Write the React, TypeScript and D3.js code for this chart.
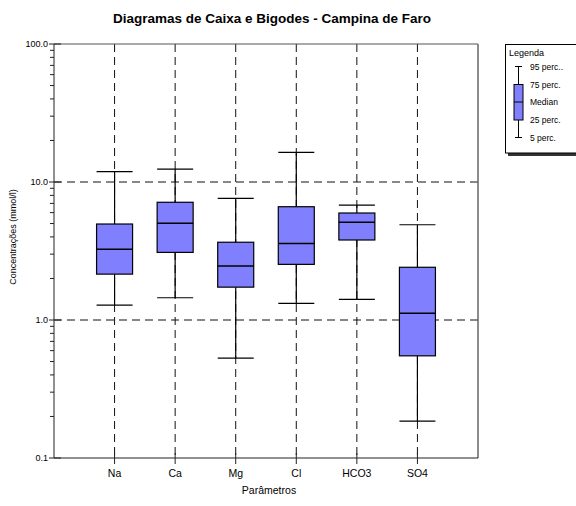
import React from "react";
import * as d3 from "d3";

const categories = ["Na", "Ca", "Mg", "Cl", "HCO3", "SO4"];
const p95 = [11.9, 12.4, 7.6, 16.4, 6.8, 4.9];
const p75 = [4.96, 7.13, 3.66, 6.62, 5.96, 2.41];
const median = [3.25, 5.02, 2.46, 3.59, 5.1, 1.12];
const p25 = [2.15, 3.09, 1.73, 2.53, 3.8, 0.55];
const p5 = [1.28, 1.45, 0.53, 1.32, 1.41, 0.185];
const yTicks = [0.1, 1, 10, 100];
const legendLabels = ["95 perc..", "75 perc.", "Median", "25 perc.", "5 perc."];

const W = 576, H = 506;
const L = 54, R = 478, T = 44, B = 458;
const FONT = "Liberation Sans, Arial, sans-serif";

export default function App() {
  const y = d3.scaleLog().domain([0.1, 100]).range([B, T]);
  const x = d3.scaleLinear().domain([0, categories.length + 1]).range([L, R]);
  const bw = 36;
  const minor: number[] = [];
  [0.1, 1, 10].forEach((d) => {
    for (let k = 2; k <= 9; k++) minor.push(d * k);
  });
  const dash = "8,5";
  const gridColor = "#111";

  // legend
  const lx = 518.5;
  const ly = [66.5, 84.5, 102, 120, 137.5];

  return (
    <svg width={W} height={H} style={{ position: "absolute", left: 0, top: 0 }}>
      <rect width={W} height={H} fill="#fff" />
      <text x={272} y={23} textAnchor="middle" fontFamily={FONT} fontWeight="bold" fontSize={13.5}>
        Diagramas de Caixa e Bigodes - Campina de Faro
      </text>
      {/* grid */}
      {categories.map((c, i) => (
        <line key={"vg" + c} x1={x(i + 1)} x2={x(i + 1)} y1={T} y2={B} stroke={gridColor} strokeWidth={1} strokeDasharray={dash} />
      ))}
      {[1, 10].map((v) => (
        <line key={"hg" + v} x1={L} x2={R} y1={y(v)} y2={y(v)} stroke={gridColor} strokeWidth={1} strokeDasharray={dash} />
      ))}
      {/* frame */}
      <line x1={L} x2={R} y1={T} y2={T} stroke="#555" strokeWidth={1.2} />
      <line x1={R} x2={R} y1={T} y2={B} stroke="#666" strokeWidth={1.5} />
      <line x1={L} x2={R} y1={B} y2={B} stroke="#222" strokeWidth={1} />
      <line x1={L} x2={L} y1={T} y2={B} stroke="#222" strokeWidth={1} />
      {/* y ticks */}
      {minor.map((v) => (
        <line key={"mt" + v} x1={L - 4} x2={L} y1={y(v)} y2={y(v)} stroke="#222" strokeWidth={1} />
      ))}
      {yTicks.map((v) => (
        <g key={"yt" + v}>
          <line x1={L - 5} x2={L + 7} y1={y(v)} y2={y(v)} stroke="#222" strokeWidth={1} />
          <text x={L - 6} y={y(v) + 3} textAnchor="end" fontFamily={FONT} fontSize={9}>
            {v.toFixed(1)}
          </text>
        </g>
      ))}
      {/* x ticks */}
      {categories.map((c, i) => (
        <g key={"xt" + c}>
          <line x1={x(i + 1)} x2={x(i + 1)} y1={B - 5} y2={B + 6} stroke="#222" strokeWidth={1} />
          <text x={x(i + 1)} y={B + 19} textAnchor="middle" fontFamily={FONT} fontSize={10.5}>
            {c}
          </text>
        </g>
      ))}
      <text x={269} y={494} textAnchor="middle" fontFamily={FONT} fontSize={10.5}>
        Parâmetros
      </text>
      <text transform={`translate(16,237) rotate(-90)`} textAnchor="middle" fontFamily={FONT} fontSize={9}>
        Concentrações (mmol/l)
      </text>
      {/* boxes */}
      {categories.map((c, i) => {
        const cx = x(i + 1);
        return (
          <g key={"box" + c}>
            <line x1={cx} x2={cx} y1={y(p95[i])} y2={y(p75[i])} stroke="#000" strokeWidth={1.2} />
            <line x1={cx} x2={cx} y1={y(p25[i])} y2={y(p5[i])} stroke="#000" strokeWidth={1.2} />
            <line x1={cx - bw / 2} x2={cx + bw / 2} y1={y(p95[i])} y2={y(p95[i])} stroke="#000" strokeWidth={1.2} />
            <line x1={cx - bw / 2} x2={cx + bw / 2} y1={y(p5[i])} y2={y(p5[i])} stroke="#000" strokeWidth={1.2} />
            <rect x={cx - bw / 2} y={y(p75[i])} width={bw} height={y(p25[i]) - y(p75[i])} fill="#8080FF" stroke="#000" strokeWidth={1.2} />
            <line x1={cx - bw / 2} x2={cx + bw / 2} y1={y(median[i])} y2={y(median[i])} stroke="#000" strokeWidth={1.5} />
          </g>
        );
      })}
      {/* legend */}
      <rect x={508} y={47} width={70} height={109} fill="#333" />
      <rect x={505.5} y={44.5} width={72} height={108.5} fill="#fff" stroke="#000" strokeWidth={1} />
      <text x={509} y={56} fontFamily={FONT} fontSize={9}>Legenda</text>
      <line x1={lx} x2={lx} y1={ly[0]} y2={ly[4]} stroke="#000" strokeWidth={1} />
      <line x1={lx - 3.5} x2={lx + 3.5} y1={ly[0]} y2={ly[0]} stroke="#000" strokeWidth={1} />
      <line x1={lx - 3.5} x2={lx + 3.5} y1={ly[4]} y2={ly[4]} stroke="#000" strokeWidth={1} />
      <rect x={lx - 4.5} y={ly[1]} width={9} height={ly[3] - ly[1]} fill="#8080FF" stroke="#000" strokeWidth={1} />
      <line x1={lx - 4.5} x2={lx + 4.5} y1={ly[2]} y2={ly[2]} stroke="#000" strokeWidth={1} />
      {legendLabels.map((t, i) => (
        <text key={t} x={530} y={ly[i] + 3} fontFamily={FONT} fontSize={8.5}>
          {t}
        </text>
      ))}
    </svg>
  );
}
